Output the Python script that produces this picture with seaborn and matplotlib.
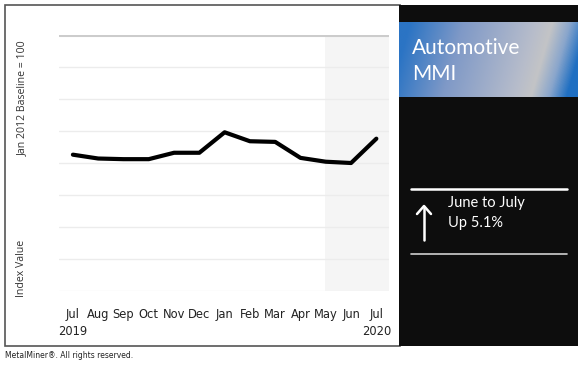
# Automotive MMI chart, Jul 2019 - Jul 2020
import numpy as np
import pandas as pd
import matplotlib
matplotlib.use("Agg")
import matplotlib.pyplot as plt
from matplotlib.patches import Rectangle
from matplotlib.colors import LinearSegmentedColormap
import seaborn as sns

sns.set_style("white")
plt.rcParams['font.family'] = ['DejaVu Sans']

months = ["Jul\n2019", "Aug", "Sep", "Oct", "Nov", "Dec", "Jan",
          "Feb", "Mar", "Apr", "May", "Jun", "Jul\n2020"]
index_values = [71.3, 70.7, 70.6, 70.6, 71.6, 71.6, 74.8,
                73.4, 73.3, 70.8, 70.2, 70.0, 73.8]
grid_levels = [50, 55, 60, 65, 70, 75, 80, 85, 90]

df = pd.DataFrame({"pos": range(len(months)), "value": index_values})

W, H = 580, 365
fig = plt.figure(figsize=(5.8, 3.65), dpi=100)

def fx(px):
    return px / W

def fy(py):
    return 1 - py / H

# outer frame of the chart area and the black side panel
fig.patches.append(Rectangle((fx(5), fy(346)), fx(395), 341 / H, transform=fig.transFigure,
                             facecolor="white", edgecolor="#555555", lw=1.2, zorder=-5))
fig.patches.append(Rectangle((fx(399), fy(346)), fx(179), 341 / H, transform=fig.transFigure,
                             facecolor="#0d0d0d", edgecolor="none", zorder=-4))

ax = fig.add_axes([fx(59), fy(291), fx(330), 256 / H])
ax.set_facecolor("none")
ax.axvspan(9.98, 12.6, color="#f5f5f5", zorder=0, lw=0)
sns.lineplot(data=df, x="pos", y="value", color="black", lw=3, ax=ax, zorder=3)

ax.set_ylim(grid_levels[0], grid_levels[-1])
ax.set_xlim(-0.55, 12.5)
for g in grid_levels[1:-1]:
    ax.axhline(g, color="#ececec", lw=1, zorder=1)
ax.axhline(grid_levels[0], color="#f0f0f0", lw=1, zorder=1)
ax.axhline(grid_levels[-1], color="#cccccc", lw=2.2, zorder=1)

ax.set_yticks([])
ax.set_xticks(range(len(months)))
ax.set_xticklabels(months, fontsize=8.3, color="#222222", linespacing=1.4)
ax.tick_params(axis="x", length=0, pad=12)
ax.set_xlabel("")
ax.set_ylabel("")
for s in ax.spines.values():
    s.set_visible(False)

fig.text(fx(22), fy(98), "Jan 2012 Baseline = 100", rotation=90, ha="center", va="center",
         fontsize=7.6, color="#333333", family=["Open Sans", "DejaVu Sans"])
fig.text(fx(22), fy(268), "Index Value", rotation=90, ha="center", va="center",
         fontsize=7.6, color="#333333", family=["Open Sans", "DejaVu Sans"])

# gradient title box
gax = fig.add_axes([fx(399), fy(97), fx(179), 75 / H])
cmap = LinearSegmentedColormap.from_list(
    "mmi", [(0, "#2b74c4"), (0.3, "#7f99c7"), (0.7, "#b6bccb"),
            (0.8, "#c3c4c6"), (0.9, "#8aa6cc"), (1.0, "#1f6fc2")])
xx, yy = np.meshgrid(np.linspace(0, 1, 300), np.linspace(0, 1, 80))
grad = np.clip(xx - 0.12 * (yy - 0.5), 0, 1)
gax.imshow(grad, cmap=cmap, aspect="auto", origin="lower", extent=[0, 1, 0, 1])
gax.set_axis_off()
fig.text(fx(412), fy(48), "Automotive", color="white", fontsize=15, va="center",
         family=["Lato", "DejaVu Sans"])
fig.text(fx(412), fy(74), "MMI", color="white", fontsize=15, va="center",
         family=["Lato", "DejaVu Sans"])

# change box
fig.add_artist(plt.Line2D([fx(411), fx(567)], [fy(189), fy(189)], color="white", lw=1.8))
fig.add_artist(plt.Line2D([fx(411), fx(567)], [fy(254), fy(254)], color="#cfcfcf", lw=1.2))
fig.add_artist(plt.Line2D([fx(424), fx(424)], [fy(240), fy(207)], color="white", lw=1.8))
fig.add_artist(plt.Line2D([fx(417), fx(424), fx(431)], [fy(214), fy(206), fy(214)],
                          color="white", lw=1.8))
fig.text(fx(448), fy(203), "June to July", color="white", fontsize=10.5, va="center",
         family=["Lato", "DejaVu Sans"])
fig.text(fx(448), fy(223), "Up 5.1%", color="white", fontsize=10.5, va="center",
         family=["Lato", "DejaVu Sans"])

fig.text(fx(5), fy(356), "MetalMiner\u00ae. All rights reserved.", fontsize=5.5,
         color="#222222", va="center")

fig.savefig("out.png", dpi=100)
